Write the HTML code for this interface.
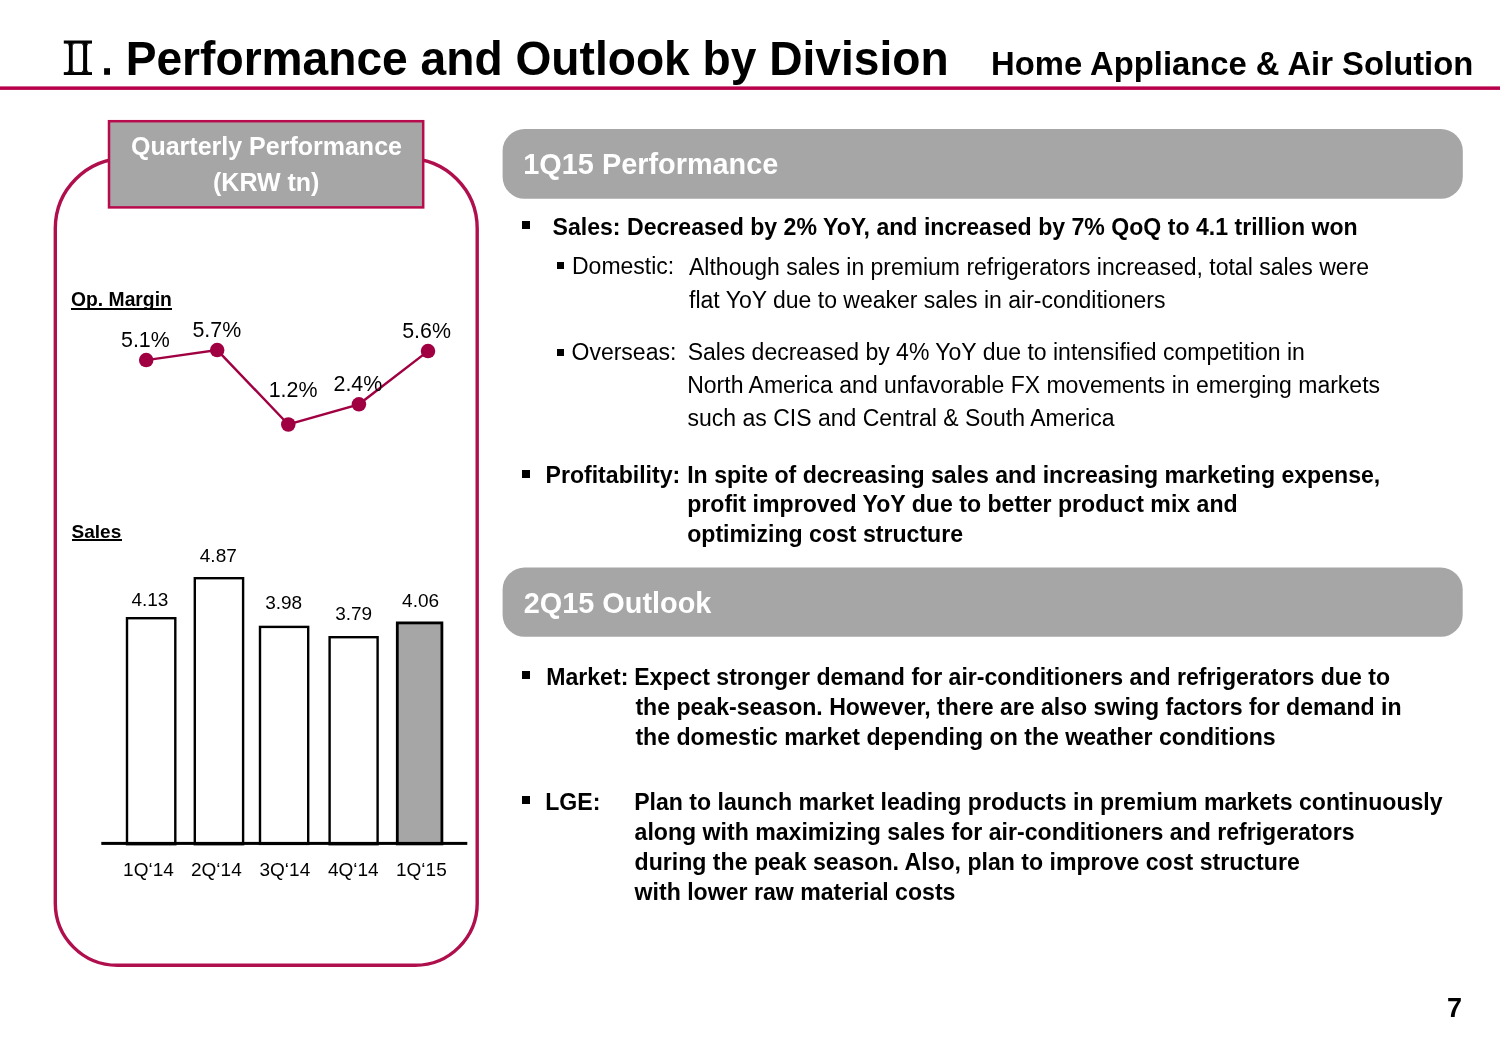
<!DOCTYPE html>
<html><head><meta charset="utf-8">
<style>
html,body{margin:0;padding:0;background:#fff;}
body{will-change:transform;width:1500px;height:1038px;position:relative;overflow:hidden;font-family:"Liberation Sans",sans-serif;color:#000;}
.t{position:absolute;white-space:nowrap;line-height:1;}
.b{font-weight:bold;}
.w{color:#fff;}
.sq{position:absolute;background:#000;}
</style></head>
<body>
<svg width="1500" height="1038" style="position:absolute;left:0;top:0">
  <!-- title underline -->
  <rect x="0" y="86.4" width="1500" height="3.5" fill="#B8004A"/>
  <!-- left rounded frame -->
  <path d="M55.3,228.5 A70,70 0 0 1 125.3,158.5 L407.2,158.5 A70,70 0 0 1 477.2,228.5 L477.2,903.3 A62,62 0 0 1 415.2,965.3 L117.3,965.3 A62,62 0 0 1 55.3,903.3 Z" fill="none" stroke="#B00F4E" stroke-width="3.4"/>
  <!-- quarterly performance header box -->
  <rect x="109" y="121.2" width="314.2" height="86.2" fill="#A6A6A6" stroke="#B80B4E" stroke-width="2.5"/>
  <!-- section headers -->
  <rect x="502.6" y="129" width="960.2" height="69.8" rx="22" ry="22" fill="#A6A6A6"/>
  <rect x="502.6" y="567.5" width="960.1" height="69.3" rx="22" ry="22" fill="#A6A6A6"/>
  <!-- line chart -->
  <polyline points="146.2,360.1 217.2,350.1 288.3,424.5 358.9,404.3 428,351.1" fill="none" stroke="#A00042" stroke-width="2.4"/>
  <circle cx="146.2" cy="360.1" r="7.25" fill="#A00042"/>
  <circle cx="217.2" cy="350.1" r="7.25" fill="#A00042"/>
  <circle cx="288.3" cy="424.5" r="7.25" fill="#A00042"/>
  <circle cx="358.9" cy="404.3" r="7.25" fill="#A00042"/>
  <circle cx="428" cy="351.1" r="7.25" fill="#A00042"/>
  <!-- bars -->
  <rect x="127" y="618.2" width="48.3" height="226" fill="#fff" stroke="#000" stroke-width="2.4"/>
  <rect x="194.8" y="578.2" width="48.3" height="266" fill="#fff" stroke="#000" stroke-width="2.4"/>
  <rect x="260" y="626.9" width="48.2" height="217" fill="#fff" stroke="#000" stroke-width="2.4"/>
  <rect x="329.6" y="637.2" width="48" height="207" fill="#fff" stroke="#000" stroke-width="2.4"/>
  <rect x="397.3" y="622.9" width="44.6" height="221" fill="#A6A6A6" stroke="#000" stroke-width="2.8"/>
  <rect x="101.3" y="841.9" width="366" height="3" fill="#000"/>
  <!-- roman numeral II. -->
  <g fill="#000">
    <rect x="63.8" y="40.5" width="28.2" height="3.1"/>
    <rect x="63.8" y="72.1" width="28.2" height="2.9"/>
    <rect x="68.9" y="43" width="3.8" height="29.5"/>
    <rect x="83.1" y="43" width="4" height="29.5"/>
    <path d="M66,43.5 Q68.9,43.6 68.9,47 L68.9,43.5 Z M75.5,43.5 Q72.7,43.6 72.7,47 L72.7,43.5 Z M80.3,43.5 Q83.1,43.6 83.1,47 L83.1,43.5 Z M89.9,43.5 Q87.1,43.6 87.1,47 L87.1,43.5 Z"/>
    <path d="M66,72.2 Q68.9,72.1 68.9,68.8 L68.9,72.2 Z M75.5,72.2 Q72.7,72.1 72.7,68.8 L72.7,72.2 Z M80.3,72.2 Q83.1,72.1 83.1,68.8 L83.1,72.2 Z M89.9,72.2 Q87.1,72.1 87.1,68.8 L87.1,72.2 Z"/>
    <rect x="104.1" y="68.2" width="5.9" height="6.6"/>
  </g>
</svg>

<!-- Title -->
<div class="t b" style="left:125.7px;top:35.9px;font-size:46.15px;transform:scaleY(1.05);transform-origin:0 39.1px;">Performance and Outlook by Division</div>
<div class="t b" style="left:991px;top:48px;font-size:32.8px;">Home Appliance &amp; Air Solution</div>

<div class="t b w" style="left:131px;top:134.2px;font-size:25px;">Quarterly Performance</div>
<div class="t b w" style="left:213px;top:169.8px;font-size:25px;">(KRW tn)</div>

<div class="t b" style="left:71.1px;top:290.0px;font-size:19.3px;">Op. Margin</div>
<div class="sq" style="left:71.3px;top:308.4px;width:101px;height:1.7px;"></div>
<div class="t" style="left:121.0px;top:330.1px;font-size:21.4px;">5.1%</div>
<div class="t" style="left:192.4px;top:320.1px;font-size:21.4px;">5.7%</div>
<div class="t" style="left:268.7px;top:380.1px;font-size:21.4px;">1.2%</div>
<div class="t" style="left:333.5px;top:373.8px;font-size:21.4px;">2.4%</div>
<div class="t" style="left:402.2px;top:320.9px;font-size:21.4px;">5.6%</div>

<div class="t b" style="left:71.6px;top:521.5px;font-size:19px;">Sales</div>
<div class="sq" style="left:71.5px;top:539.4px;width:50.5px;height:1.7px;"></div>
<div class="t" style="left:131.4px;top:590.1px;font-size:19px;">4.13</div>
<div class="t" style="left:199.8px;top:545.7px;font-size:19px;">4.87</div>
<div class="t" style="left:265.2px;top:592.5px;font-size:19px;">3.98</div>
<div class="t" style="left:335.2px;top:603.5px;font-size:19px;">3.79</div>
<div class="t" style="left:402.1px;top:590.7px;font-size:19px;">4.06</div>

<div class="t" style="left:123.1px;top:860.3px;font-size:19px;">1Q&#8216;14</div>
<div class="t" style="left:191px;top:860.3px;font-size:19px;">2Q&#8216;14</div>
<div class="t" style="left:259.5px;top:860.3px;font-size:19px;">3Q&#8216;14</div>
<div class="t" style="left:327.9px;top:860.3px;font-size:19px;">4Q&#8216;14</div>
<div class="t" style="left:396px;top:860.3px;font-size:19px;">1Q&#8216;15</div>

<!-- Right column -->
<div class="t b w" style="left:523.3px;top:150.1px;font-size:28.86px;">1Q15 Performance</div>
<div class="t b w" style="left:523.7px;top:588.7px;font-size:28.86px;">2Q15 Outlook</div>

<div class="sq" style="left:521.5px;top:221.3px;width:8px;height:7.5px;"></div>
<div class="t b" style="left:552.5px;top:215.5px;font-size:23.1px;">Sales: Decreased by 2% YoY, and increased by 7% QoQ to 4.1 trillion won</div>
<div class="sq" style="left:557px;top:262px;width:7px;height:7px;"></div>
<div class="t" style="left:572px;top:254.5px;font-size:23px;">Domestic:</div>
<div class="t" style="left:689px;top:255.5px;font-size:23px;">Although sales in premium refrigerators increased, total sales were</div>
<div class="t" style="left:689px;top:288.5px;font-size:23px;">flat YoY due to weaker sales in air-conditioners</div>
<div class="sq" style="left:557px;top:348.5px;width:7px;height:7px;"></div>
<div class="t" style="left:571.5px;top:340.5px;font-size:23px;">Overseas:</div>
<div class="t" style="left:687.7px;top:340.5px;font-size:23px;">Sales decreased by 4% YoY due to intensified competition in</div>
<div class="t" style="left:687.2px;top:373.5px;font-size:23px;">North America and unfavorable FX movements in emerging markets</div>
<div class="t" style="left:687.5px;top:406.5px;font-size:23px;">such as CIS and Central &amp; South America</div>

<div class="sq" style="left:521.6px;top:470px;width:8px;height:7.5px;"></div>
<div class="t b" style="left:545.5px;top:463.5px;font-size:23.1px;">Profitability:</div>
<div class="t b" style="left:687.2px;top:463.5px;font-size:23.1px;">In spite of decreasing sales and increasing marketing expense,</div>
<div class="t b" style="left:687.2px;top:492.5px;font-size:23.1px;">profit improved YoY due to better product mix and</div>
<div class="t b" style="left:687.2px;top:522.5px;font-size:23.1px;">optimizing cost structure</div>

<div class="sq" style="left:521.6px;top:671px;width:8px;height:7.5px;"></div>
<div class="t b" style="left:546.2px;top:665.5px;font-size:23.1px;">Market:</div>
<div class="t b" style="left:634.2px;top:665.5px;font-size:23.1px;">Expect stronger demand for air-conditioners and refrigerators due to</div>
<div class="t b" style="left:635.4px;top:695.5px;font-size:23.1px;">the peak-season. However, there are also swing factors for demand in</div>
<div class="t b" style="left:635.4px;top:725.5px;font-size:23.1px;">the domestic market depending on the weather conditions</div>

<div class="sq" style="left:521.6px;top:796.4px;width:8px;height:7.5px;"></div>
<div class="t b" style="left:545.2px;top:790.5px;font-size:23.1px;">LGE:</div>
<div class="t b" style="left:634.2px;top:790.5px;font-size:23.1px;">Plan to launch market leading products in premium markets continuously</div>
<div class="t b" style="left:634.6px;top:820.5px;font-size:23.1px;">along with maximizing sales for air-conditioners and refrigerators</div>
<div class="t b" style="left:634.6px;top:850.5px;font-size:23.1px;">during the peak season. Also, plan to improve cost structure</div>
<div class="t b" style="left:634.6px;top:880.5px;font-size:23.1px;">with lower raw material costs</div>

<div class="t b" style="left:1447px;top:995.4px;font-size:27px;">7</div>
</body></html>
